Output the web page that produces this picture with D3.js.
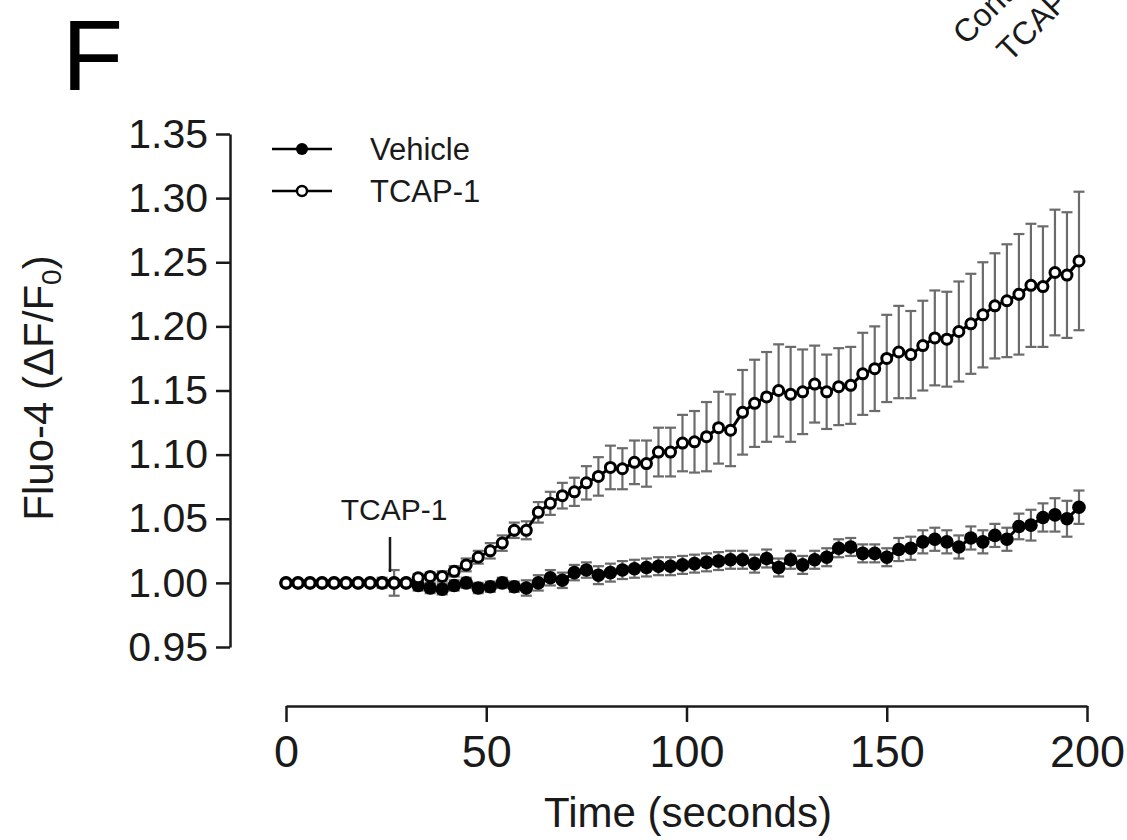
<!DOCTYPE html>
<html>
<head>
<meta charset="utf-8">
<script src="https://cdn.jsdelivr.net/npm/d3@7"></script>
<style>
  body { margin: 0; background: #fff; }
  svg { display: block; font-family: 'Liberation Sans', Arial, sans-serif; }
</style>
</head>
<body>
<div id="chart"></div>
<script>
(function() {
    'use strict';

    // Time points (seconds)
    var timeSec = [0, 3, 6, 9, 12, 15, 18, 21, 24, 27, 30, 33, 36, 39, 42, 45, 48, 51, 54, 57,
        60, 63, 66, 69, 72, 75, 78, 81, 84, 87, 90, 93, 96, 99, 102, 105, 108, 111, 114, 117,
        120, 123, 126, 129, 132, 135, 138, 141, 144, 147, 150, 153, 156, 159, 162, 165, 168, 171, 174, 177,
        180, 183, 186, 189, 192, 195, 198];

    var vehicleMean = [1.000, 1.000, 1.000, 1.000, 1.000, 1.000, 1.000, 1.000, 1.000, 1.000, 1.000, 0.998, 0.996, 0.995, 0.998, 1.000, 0.996, 0.997, 1.000, 0.997,
        0.996, 1.000, 1.004, 1.002, 1.008, 1.010, 1.006, 1.008, 1.010, 1.011, 1.012, 1.013, 1.013, 1.014, 1.015, 1.016, 1.017, 1.018, 1.018, 1.015,
        1.019, 1.012, 1.018, 1.014, 1.018, 1.020, 1.027, 1.028, 1.023, 1.023, 1.020, 1.026, 1.027, 1.032, 1.034, 1.032, 1.028, 1.035, 1.032, 1.037,
        1.034, 1.044, 1.045, 1.051, 1.053, 1.050, 1.059];
    var vehicleSem = [0.001, 0.001, 0.001, 0.001, 0.001, 0.001, 0.001, 0.001, 0.001, 0.001, 0.001, 0.004, 0.004, 0.004, 0.004, 0.004, 0.004, 0.004, 0.004, 0.004,
        0.006, 0.006, 0.006, 0.006, 0.006, 0.006, 0.007, 0.007, 0.007, 0.007, 0.007, 0.007, 0.007, 0.007, 0.007, 0.007, 0.007, 0.007, 0.007, 0.007,
        0.007, 0.007, 0.007, 0.007, 0.007, 0.007, 0.007, 0.007, 0.007, 0.007, 0.007, 0.009, 0.009, 0.009, 0.009, 0.009, 0.009, 0.009, 0.009, 0.009,
        0.009, 0.010, 0.012, 0.011, 0.013, 0.014, 0.013];

    var tcapMean = [1.000, 1.000, 1.000, 1.000, 1.000, 1.000, 1.000, 1.000, 1.000, 1.000, 1.000, 1.004, 1.005, 1.005, 1.009, 1.014, 1.020, 1.025, 1.031, 1.041,
        1.041, 1.055, 1.062, 1.068, 1.071, 1.078, 1.083, 1.090, 1.089, 1.094, 1.093, 1.102, 1.102, 1.109, 1.110, 1.114, 1.121, 1.119, 1.133, 1.140,
        1.145, 1.150, 1.147, 1.149, 1.155, 1.149, 1.153, 1.154, 1.163, 1.167, 1.175, 1.180, 1.178, 1.185, 1.191, 1.190, 1.196, 1.202, 1.209, 1.216,
        1.220, 1.225, 1.232, 1.231, 1.242, 1.240, 1.251];
    var tcapSem = [0.001, 0.001, 0.001, 0.001, 0.001, 0.001, 0.001, 0.001, 0.004, 0.010, 0.002, 0.003, 0.003, 0.004, 0.004, 0.005, 0.005, 0.006, 0.006, 0.006,
        0.007, 0.008, 0.009, 0.010, 0.011, 0.013, 0.015, 0.017, 0.016, 0.017, 0.018, 0.019, 0.019, 0.022, 0.024, 0.027, 0.028, 0.028, 0.033, 0.034,
        0.035, 0.036, 0.037, 0.033, 0.030, 0.029, 0.030, 0.030, 0.032, 0.033, 0.034, 0.036, 0.034, 0.035, 0.037, 0.037, 0.039, 0.039, 0.041, 0.041,
        0.044, 0.047, 0.048, 0.047, 0.049, 0.049, 0.054];

    var yTicks = [0.95, 1.00, 1.05, 1.10, 1.15, 1.20, 1.25, 1.30, 1.35];
    var xTicks = [0, 50, 100, 150, 200];
    var seriesNames = ['Vehicle', 'TCAP-1'];
    var otherPanelLabels = ['Control', 'TCAP-1'];

    var width = 1127, height = 840;
    var ink = '#1a1a1a';

    var svg = d3.select('#chart').append('svg')
        .attr('width', width)
        .attr('height', height);

    var x = d3.scaleLinear().domain([0, 200]).range([286, 1087]);
    var y = d3.scaleLinear().domain([0.95, 1.35]).range([647, 134]);

    // Remnants of the neighbouring panel (cut by the top edge)
    svg.selectAll('text.other')
        .data(otherPanelLabels)
        .join('text')
        .attr('class', 'other')
        .attr('transform', function(d, i) {
            return i === 0 ? 'translate(966,46) rotate(-45)' : 'translate(1010,63) rotate(-45)';
        })
        .attr('font-size', 32)
        .attr('fill', ink)
        .text(function(d) { return d; });

    // Panel letter
    svg.append('text')
        .attr('x', 62)
        .attr('y', 90)
        .attr('font-size', 100)
        .attr('fill', '#000')
        .text('F');

    // Axes
    var yAxis = svg.append('g')
        .attr('transform', 'translate(230,0)')
        .call(d3.axisLeft(y)
            .tickValues(yTicks)
            .tickSize(14)
            .tickSizeOuter(0)
            .tickPadding(8)
            .tickFormat(d3.format('.2f')));

    var xAxis = svg.append('g')
        .attr('transform', 'translate(0,706)')
        .call(d3.axisBottom(x)
            .tickValues(xTicks)
            .tickSize(16)
            .tickSizeOuter(0)
            .tickPadding(13));

    [yAxis, xAxis].forEach(function(g) {
        g.select('.domain').attr('stroke', ink).attr('stroke-width', 2.5);
        g.selectAll('.tick line').attr('stroke', ink).attr('stroke-width', 2.5);
        g.selectAll('.tick text')
            .attr('fill', ink)
            .style('font-family', "'Liberation Sans', Arial, sans-serif");
    });
    yAxis.selectAll('.tick text').attr('font-size', 41);
    xAxis.selectAll('.tick text').attr('font-size', 45);

    // Axis titles
    svg.append('text')
        .attr('x', 688)
        .attr('y', 827)
        .attr('text-anchor', 'middle')
        .attr('font-size', 42)
        .attr('fill', ink)
        .text('Time (seconds)');

    var yTitle = svg.append('text')
        .attr('transform', 'translate(53,388) rotate(-90)')
        .attr('text-anchor', 'middle')
        .attr('font-size', 42)
        .attr('fill', ink);
    yTitle.append('tspan').text('Fluo-4 (\u0394F/F');
    yTitle.append('tspan').attr('font-size', 28).attr('dy', 8).text('0');
    yTitle.append('tspan').attr('dy', -8).text(')');

    // Build rows for each series
    function rows(mean, sem) {
        return timeSec.map(function(t, i) {
            return { t: t, v: mean[i], e: sem[i] };
        });
    }
    var vehicle = rows(vehicleMean, vehicleSem);
    var tcap = rows(tcapMean, tcapSem);

    var line = d3.line()
        .x(function(d) { return x(d.t); })
        .y(function(d) { return y(d.v); });

    function errorBars(data, cls) {
        var g = svg.append('g').attr('class', cls)
            .attr('stroke', '#6b6b6b')
            .attr('stroke-width', 2.2);
        var cap = 5.5;
        var bars = g.selectAll('g')
            .data(data.filter(function(d) { return y(d.v - d.e) - y(d.v + d.e) > 3; }))
            .join('g');
        bars.append('line')
            .attr('x1', function(d) { return x(d.t); })
            .attr('x2', function(d) { return x(d.t); })
            .attr('y1', function(d) { return y(d.v - d.e); })
            .attr('y2', function(d) { return y(d.v + d.e); });
        bars.append('line')
            .attr('x1', function(d) { return x(d.t) - cap; })
            .attr('x2', function(d) { return x(d.t) + cap; })
            .attr('y1', function(d) { return y(d.v + d.e); })
            .attr('y2', function(d) { return y(d.v + d.e); });
        bars.append('line')
            .attr('x1', function(d) { return x(d.t) - cap; })
            .attr('x2', function(d) { return x(d.t) + cap; })
            .attr('y1', function(d) { return y(d.v - d.e); })
            .attr('y2', function(d) { return y(d.v - d.e); });
    }

    errorBars(vehicle, 'err-vehicle');
    errorBars(tcap, 'err-tcap');

    // Vehicle: filled circles
    svg.append('path')
        .datum(vehicle)
        .attr('fill', 'none')
        .attr('stroke', '#000')
        .attr('stroke-width', 3)
        .attr('d', line);
    svg.append('g').selectAll('circle')
        .data(vehicle)
        .join('circle')
        .attr('cx', function(d) { return x(d.t); })
        .attr('cy', function(d) { return y(d.v); })
        .attr('r', 6.8)
        .attr('fill', '#000');

    // TCAP-1: open circles
    svg.append('path')
        .datum(tcap)
        .attr('fill', 'none')
        .attr('stroke', '#000')
        .attr('stroke-width', 3)
        .attr('d', line);
    svg.append('g').selectAll('circle')
        .data(tcap)
        .join('circle')
        .attr('cx', function(d) { return x(d.t); })
        .attr('cy', function(d) { return y(d.v); })
        .attr('r', 5)
        .attr('fill', '#fff')
        .attr('stroke', '#000')
        .attr('stroke-width', 3);

    // Application marker
    svg.append('line')
        .attr('x1', 390).attr('x2', 390)
        .attr('y1', 537).attr('y2', 572)
        .attr('stroke', ink)
        .attr('stroke-width', 2.5);
    svg.append('text')
        .attr('x', 394)
        .attr('y', 520)
        .attr('text-anchor', 'middle')
        .attr('font-size', 30)
        .attr('fill', ink)
        .text('TCAP-1');

    // Legend
    var legend = svg.append('g').selectAll('g')
        .data(seriesNames)
        .join('g')
        .attr('transform', function(d, i) { return 'translate(0,' + (149 + i * 42) + ')'; });
    legend.append('line')
        .attr('x1', 272).attr('x2', 332)
        .attr('stroke', '#000')
        .attr('stroke-width', 2.5);
    legend.append('circle')
        .attr('cx', 302)
        .attr('r', function(d, i) { return i === 0 ? 6 : 5; })
        .attr('fill', function(d, i) { return i === 0 ? '#000' : '#fff'; })
        .attr('stroke', '#000')
        .attr('stroke-width', function(d, i) { return i === 0 ? 0 : 2.4; });
    legend.append('text')
        .attr('x', 370)
        .attr('y', 11)
        .attr('font-size', 31)
        .attr('fill', ink)
        .text(function(d) { return d; });
})();
</script>
</body>
</html>
